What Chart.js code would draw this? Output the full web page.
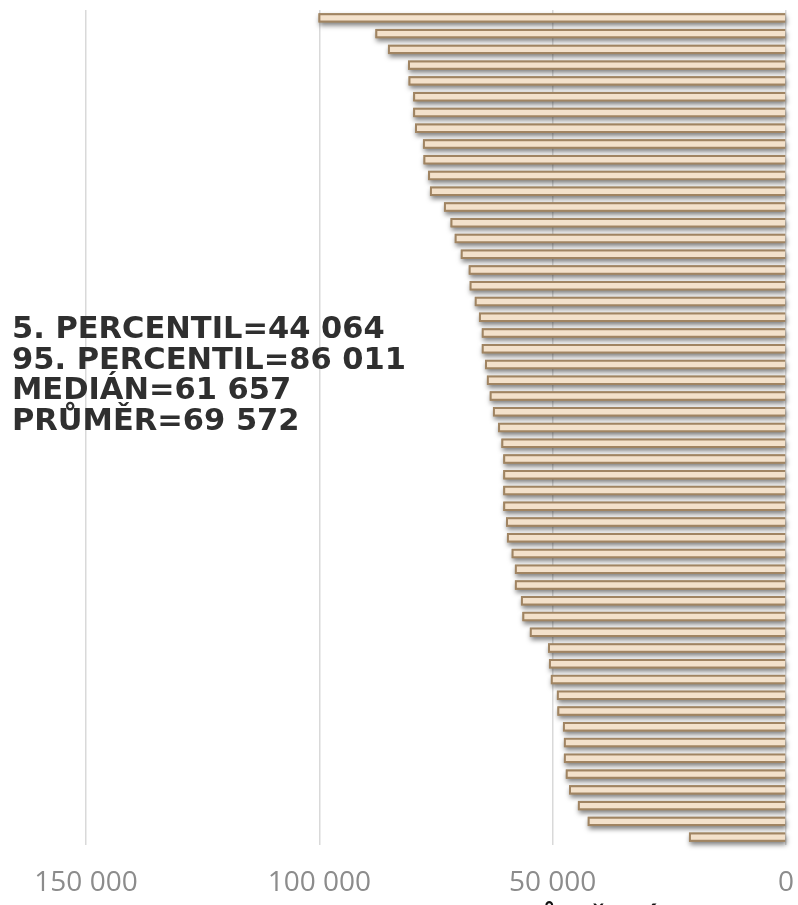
<!DOCTYPE html>
<html>
<head>
<meta charset="utf-8">
<script src="https://cdn.jsdelivr.net/npm/chart.js@4.4.1/dist/chart.umd.min.js"></script>
<style>
  html, body { margin: 0; padding: 0; background: #fff; }
  #wrap { width: 798px; height: 905px; position: relative; }
</style>
</head>
<body>
<div id="wrap"><canvas id="mycanvas" width="798" height="905"></canvas></div>
<script>
// one bar per row, top to bottom
var labels = [];
for (var i = 1; i <= 53; i++) labels.push(String(i));

var wages = [
  100200, 88000, 85300, 81000, 80900, 79900, 79900, 79500, 77800, 77700,
  76700, 76300, 73300, 71900, 71000, 69700, 68000, 67800, 66700, 65800,
  65200, 65200, 64500, 64100, 63500, 62800, 61700, 61000, 60600, 60600,
  60600, 60600, 60000, 59800, 58800, 58100, 58100, 56800, 56500, 54900,
  51000, 50800, 50400, 49100, 49000, 47800, 47600, 47600, 47200, 46500,
  44600, 42500, 20800
];

var tickValues = [0, 50000, 100000, 150000];

var statLines = [
  "5. PERCENTIL=44 064",
  "95. PERCENTIL=86 011",
  "MEDIÁN=61 657",
  "PRŮMĚR=69 572"
];
var axisTitle = "Průměrná mzda";

function fmt(v) {
  return String(v).replace(/\B(?=(\d{3})+(?!\d))/g, " ");
}

// bar element clips itself, so paint the shadow first from the element bounds
var shadowPlugin = {
  id: 'barShadow',
  beforeDatasetsDraw: function(chart) {
    var ctx = chart.ctx;
    var meta = chart.getDatasetMeta(0);
    ctx.save();
    ctx.shadowColor = 'rgba(0,0,0,0.5)';
    ctx.shadowBlur = 5;
    ctx.shadowOffsetX = 1;
    ctx.shadowOffsetY = 3;
    ctx.fillStyle = '#a48a66';
    meta.data.forEach(function(bar) {
      var p = bar.getProps(['x', 'y', 'base', 'height'], true);
      var left = Math.min(p.x, p.base), right = Math.max(p.x, p.base);
      ctx.fillRect(left, p.y - p.height / 2, right - left, p.height);
    });
    ctx.restore();
  }
};

var textPlugin = {
  id: 'statText',
  afterDraw: function(chart) {
    var ctx = chart.ctx;
    ctx.save();
    ctx.fillStyle = '#2f2f2f';
    ctx.font = 'bold 30.5px "DejaVu Sans"';
    ctx.textAlign = 'left';
    ctx.textBaseline = 'alphabetic';
    for (var i = 0; i < statLines.length; i++) {
      ctx.fillText(statLines[i], 12, 338 + i * 30.6);
    }
    ctx.fillStyle = '#111';
    ctx.font = 'bold 28px "DejaVu Sans"';
    ctx.fillText(axisTitle, 505, 927);
    ctx.restore();
  }
};

var ctx = document.getElementById('mycanvas');

var barGraph = new Chart(ctx, {
  type: 'bar',
  data: {
    labels: labels,
    datasets: [{
      data: wages,
      backgroundColor: '#f3e1cb',
      borderColor: '#a08462',
      borderWidth: 2,
      borderSkipped: 'start',
      categoryPercentage: 1,
      barPercentage: 0.6
    }]
  },
  options: {
    indexAxis: 'y',
    responsive: false,
    animation: false,
    layout: { padding: { left: 86, right: 12, top: 10, bottom: 5 } },
    plugins: {
      legend: { display: false },
      tooltip: { enabled: false }
    },
    scales: {
      x: {
        reverse: true,
        min: 0,
        max: 150000,
        afterBuildTicks: function(axis) {
          axis.ticks = tickValues.map(function(v) { return { value: v }; });
        },
        afterFit: function(axis) { axis.height = 55; },
        grid: { color: '#d9d9d9', lineWidth: 1.5, drawTicks: false },
        border: { display: false },
        ticks: {
          padding: 21,
          color: '#8c8c8c',
          font: { family: '"Open Sans"', size: 28 },
          maxRotation: 0,
          callback: function(v) { return fmt(v); }
        }
      },
      y: { display: false }
    }
  },
  plugins: [shadowPlugin, textPlugin]
});
</script>
</body>
</html>
